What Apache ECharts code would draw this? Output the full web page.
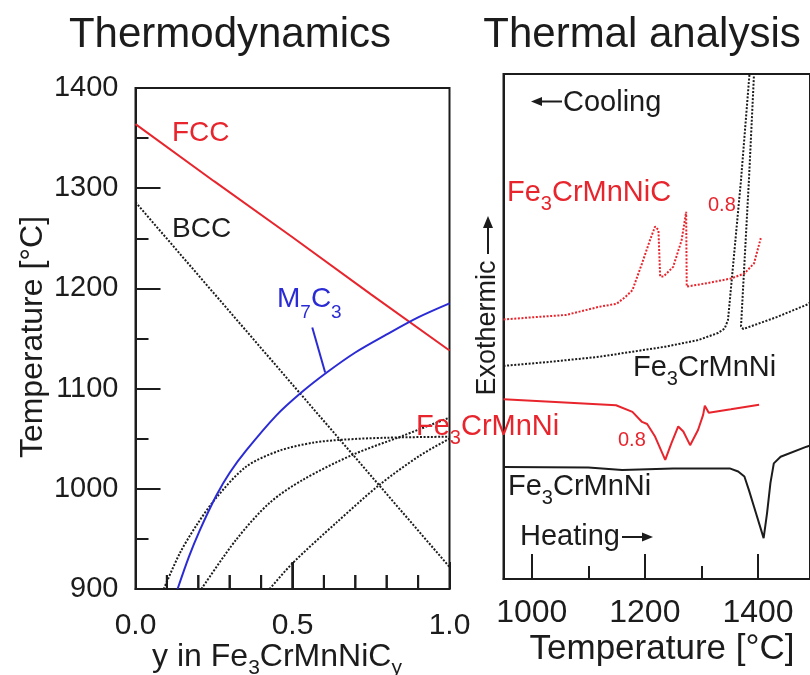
<!DOCTYPE html>
<html>
<head>
<meta charset="utf-8">
<title>Thermodynamics / Thermal analysis</title>
<style>
  html, body { margin: 0; padding: 0; background: #fff; }
  #main { width: 810px; height: 675px; }
</style>
</head>
<body>
<div id="main"></div>
<script src="https://cdn.jsdelivr.net/npm/echarts@6.0.0/dist/echarts.min.js"></script>
<script>
// colours / font
var ink = '#1c1c1c';
var red = '#e8252d';
var blue = '#2b2bd6';
var FONT = "'Liberation Sans', Arial, Helvetica, sans-serif";

// ---- Thermodynamics panel: [y in Fe3CrMnNiCy, temperature C] ----
var fcc = [[0, 1364], [0.25, 1307], [0.5, 1251], [0.75, 1194], [1, 1138]];
var bcc = [[0, 1286], [0.25, 1195], [0.5, 1104], [0.75, 1013], [1, 922]];
var m7c3 = [[0.134, 900], [0.17, 932], [0.204, 958], [0.257, 993], [0.30, 1016], [0.352, 1038],
            [0.448, 1073], [0.528, 1096], [0.609, 1116], [0.70, 1136], [0.80, 1154], [0.90, 1171], [1, 1185]];
var m7c3Leader = [[0.563, 1161], [0.604, 1116]];
var dotA = [[0.090, 900], [0.14, 935], [0.193, 963], [0.257, 991], [0.352, 1022], [0.458, 1038],
            [0.565, 1046], [0.66, 1049], [0.80, 1051], [1, 1052]];
var dotB = [[0.21, 900], [0.32, 949], [0.427, 986], [0.533, 1009], [0.692, 1034], [0.852, 1053], [0.958, 1066], [1, 1071]];
var dotC = [[0.427, 900], [0.501, 926], [0.639, 966], [0.777, 1004], [0.905, 1033], [1, 1050]];

// ---- Thermal analysis panel: [temperature C, signal (a.u.)] ----
var coolC = [[950, 51.4], [1061, 52.3], [1119, 53.9], [1150, 54.5], [1166, 55.9], [1178, 57.2], [1195, 62.5],
             [1209, 67.1], [1218, 69.8], [1224, 69.1], [1227, 59.9], [1233, 59.9], [1250, 61.8], [1265, 67.1],
             [1273, 72.7], [1274, 57.9], [1277, 57.6], [1311, 58.6], [1352, 59.5], [1376, 60.5], [1393, 62.5], [1405, 67.5]];
var coolBase = [[950, 42.2], [1032, 43.0], [1119, 44.0], [1236, 46.0], [1294, 47.3], [1329, 48.7], [1341, 49.6],
                [1347, 51.3], [1370, 79.0], [1385, 100], [1388, 110], [1397, 110], [1393, 100], [1384, 79.0],
                [1370, 50.0], [1374, 49.5], [1434, 51.9], [1486, 54.3], [1496, 55.0]];
var heatC = [[950, 35.6], [1050, 35.0], [1149, 34.4], [1178, 33.1], [1195, 31.1], [1204, 30.7], [1218, 28.2],
             [1236, 23.6], [1247, 26.9], [1259, 30.2], [1268, 29.2], [1280, 26.5], [1294, 29.5], [1303, 32.5],
             [1306, 34.3], [1313, 32.9], [1352, 33.6], [1402, 34.5]];
var heatBase = [[950, 22.2], [1100, 22.1], [1160, 21.6], [1250, 21.9], [1350, 21.9], [1365, 21.3], [1376, 20.3],
                [1384, 17.6], [1393, 14.3], [1410, 8.1], [1416, 13.0], [1422, 19.0], [1428, 22.9], [1440, 24.2],
                [1486, 26.2], [1496, 26.6]];

// tick positions
var compLabels = [0, 0.5, 1];
var compTicksMajor = [0.5];
var compTicksMinor = [0.1, 0.2, 0.3, 0.4, 0.6, 0.7, 0.8, 0.9];
var tempTicksMajor = [1000, 1200, 1400];
var tempTicksMinor = [1100, 1300];

var myChart = echarts.init(document.getElementById('main'), null, { renderer: 'canvas' });

function line(data, xi, yi, color, dotted, z, smooth) {
  return {
    type: 'line', data: data, xAxisIndex: xi, yAxisIndex: yi,
    showSymbol: false, symbol: 'none', silent: true, z: z || 2, smooth: smooth || false,
    lineStyle: { color: color, width: 2, type: dotted ? [2, 1.6] : 'solid' }
  };
}

// text with subscripts: parts = [[text, isSub], ...]
function subText(x, base, parts, color, fs, sfs, drop, align) {
  var L = 2 * (drop + 0.15 * sfs + 0.35 * fs);
  var top = base - (L / 2 + 0.35 * fs);
  var txt = parts.map(function (p) { return (p[1] ? '{s|' : '{n|') + p[0] + '}'; }).join('');
  return {
    type: 'text', x: x, y: top, z: 100,
    style: {
      text: txt, align: align || 'left', textAlign: align || 'left',
      verticalAlign: 'top', textVerticalAlign: 'top',
      rich: {
        n: { fontSize: fs, fontFamily: FONT, fill: color, color: color, lineHeight: L },
        s: { fontSize: sfs, fontFamily: FONT, fill: color, color: color, lineHeight: sfs, verticalAlign: 'bottom' }
      }
    }
  };
}
function plain(x, base, str, color, fs, align) {
  return subText(x, base, [[str, false]], color, fs, fs * 0.7, 0, align);
}

function axisStyle() { return { color: ink, width: 2 }; }
var labelBase = { fontFamily: FONT, color: ink };
var plainNum = function (v) { return String(v); };

// composition-axis ticks (1 = long, 0 = short)
var compTickData = compTicksMajor.map(function (v) { return [v, 1]; })
  .concat(compTicksMinor.map(function (v) { return [v, 0]; }));

var option = {
  animation: false,
  textStyle: { fontFamily: FONT },
  grid: [
    { left: 135.5, top: 88, width: 314, height: 501, show: true, borderColor: ink, borderWidth: 2 },
    { left: 503.5, top: 74, width: 310, height: 505, show: true, borderColor: ink, borderWidth: 2 }
  ],
  xAxis: [
    {
      gridIndex: 0, type: 'value', min: 0, max: 1, position: 'bottom',
      axisLine: { show: true, onZero: false, lineStyle: axisStyle() },
      axisTick: { show: true, inside: true, length: 27, lineStyle: axisStyle(), customValues: compLabels },
      axisLabel: Object.assign({ customValues: compLabels, fontSize: 30, margin: 22,
                                 formatter: function (v) { return v.toFixed(1); } }, labelBase),
      splitLine: { show: false }
    },
    {
      gridIndex: 1, type: 'value', min: 950, max: 1492, position: 'bottom',
      axisLine: { show: true, onZero: false, lineStyle: axisStyle() },
      axisTick: { show: true, inside: true, length: 25, lineStyle: axisStyle(), customValues: tempTicksMajor },
      axisLabel: Object.assign({ customValues: tempTicksMajor, fontSize: 32, margin: 18, formatter: plainNum }, labelBase),
      splitLine: { show: false }
    },
    {
      gridIndex: 1, type: 'value', min: 950, max: 1492, position: 'bottom',
      axisLine: { show: false, onZero: false },
      axisTick: { show: true, inside: true, length: 13, lineStyle: axisStyle(), customValues: tempTicksMinor },
      axisLabel: { show: false },
      splitLine: { show: false }
    }
  ],
  yAxis: [
    {
      gridIndex: 0, type: 'value', min: 900, max: 1400, interval: 100,
      axisLine: { show: true, onZero: false, lineStyle: axisStyle() },
      axisTick: { inside: true, length: 25, lineStyle: axisStyle() },
      minorTick: { show: true, splitNumber: 2, length: 13, lineStyle: axisStyle() },
      axisLabel: Object.assign({ fontSize: 29, margin: 17, formatter: plainNum }, labelBase),
      splitLine: { show: false }
    },
    {
      gridIndex: 1, type: 'value', min: 0, max: 100,
      axisLine: { show: true, onZero: false, lineStyle: axisStyle() },
      axisTick: { show: false }, axisLabel: { show: false }, splitLine: { show: false }
    }
  ],
  series: [
    line(bcc, 0, 0, ink, true),
    line(dotA, 0, 0, ink, true, 2, 0.3),
    line(dotB, 0, 0, ink, true, 2, 0.3),
    line(dotC, 0, 0, ink, true, 2, 0.3),
    line(fcc, 0, 0, red, false, 3),
    line(m7c3, 0, 0, blue, false, 4, 0.3),
    line(m7c3Leader, 0, 0, blue, false, 4),
    line(coolBase, 1, 1, ink, true),
    line(coolC, 1, 1, red, true, 3),
    line(heatC, 1, 1, red, false, 3),
    line(heatBase, 1, 1, ink, false, 3),
    {
      type: 'custom', xAxisIndex: 0, yAxisIndex: 0, z: 150, silent: true, clip: false,
      data: compTickData,
      renderItem: function (params, api) {
        var p = api.coord([api.value(0), 900]);
        var len = api.value(1) ? 27 : 14;
        return { type: 'line', shape: { x1: p[0], y1: p[1], x2: p[0], y2: p[1] - len },
                 style: { stroke: ink, lineWidth: 2 } };
      }
    }
  ],
  graphic: [
    // titles
    plain(230, 50, 'Thermodynamics', ink, 42, 'center'),
    plain(642, 50, 'Thermal analysis', ink, 42, 'center'),
    // left panel labels
    plain(172, 143, 'FCC', red, 28),
    plain(172, 239, 'BCC', ink, 28),
    subText(277, 309, [['M', false], ['7', true], ['C', false], ['3', true]], blue, 28, 19, 10),
    // right panel labels
    plain(563, 113, 'Cooling', ink, 29),
    subText(507, 203, [['Fe', false], ['3', true], ['CrMnNiC', false]], red, 29, 20, 8),
    plain(708, 212, '0.8', red, 20),
    subText(633, 378, [['Fe', false], ['3', true], ['CrMnNi', false]], ink, 29, 20, 8),
    subText(416, 437, [['Fe', false], ['3', true], ['CrMnNi', false]], red, 29, 20, 8),
    plain(618, 447, '0.8', red, 20),
    subText(508, 497, [['Fe', false], ['3', true], ['CrMnNi', false]], ink, 29, 20, 8),
    plain(520, 547, 'Heating', ink, 29),
    // axis titles
    subText(277, 668, [['y in Fe', false], ['3', true], ['CrMnNiC', false], ['y', true]], ink, 32, 21, 8, 'center'),
    plain(662, 662, 'Temperature [°C]', ink, 35, 'center'),
    {
      type: 'text', x: 33, y: 337, rotation: Math.PI / 2, z: 100,
      style: { text: 'Temperature [°C]', fontSize: 32, fontFamily: FONT, fill: ink,
               align: 'center', textAlign: 'center', verticalAlign: 'middle', textVerticalAlign: 'middle' }
    },
    {
      type: 'text', x: 488, y: 328, rotation: Math.PI / 2, z: 100,
      style: { text: 'Exothermic', fontSize: 27, fontFamily: FONT, fill: ink,
               align: 'center', textAlign: 'center', verticalAlign: 'middle', textVerticalAlign: 'middle' }
    },
    // arrows
    { type: 'line', z: 100, shape: { x1: 488, y1: 254, x2: 488, y2: 226 }, style: { stroke: ink, lineWidth: 2 } },
    { type: 'polygon', z: 100, shape: { points: [[483, 228], [493, 228], [488, 216]] }, style: { fill: ink } },
    { type: 'line', z: 100, shape: { x1: 562, y1: 101.5, x2: 540, y2: 101.5 }, style: { stroke: ink, lineWidth: 2 } },
    { type: 'polygon', z: 100, shape: { points: [[531, 101.5], [542, 97], [542, 106]] }, style: { fill: ink } },
    { type: 'line', z: 100, shape: { x1: 622, y1: 537, x2: 644, y2: 537 }, style: { stroke: ink, lineWidth: 2 } },
    { type: 'polygon', z: 100, shape: { points: [[653, 537], [642, 532.5], [642, 541.5]] }, style: { fill: ink } }
  ]
};

myChart.setOption(option);

// composition ticks again as graphic lines, placed through the axis scale
var tickEls = compTickData.map(function (d, i) {
  var p = myChart.convertToPixel({ xAxisIndex: 0, yAxisIndex: 0 }, [d[0], 900]);
  var len = d[1] ? 27 : 14;
  return { type: 'line', id: 'ctick' + i, z: 120,
           shape: { x1: p[0], y1: p[1], x2: p[0], y2: p[1] - len },
           style: { stroke: ink, lineWidth: 2 } };
});
myChart.setOption({ graphic: option.graphic.concat(tickEls) });
</script>
</body>
</html>
